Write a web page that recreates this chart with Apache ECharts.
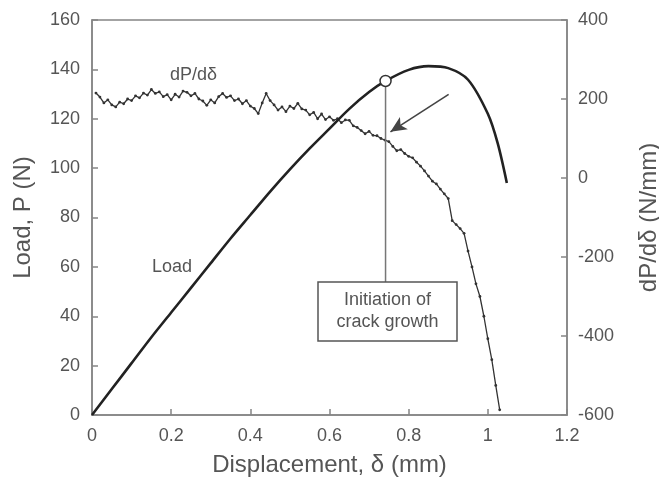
<!DOCTYPE html>
<html>
<head>
<meta charset="utf-8">
<script src="https://cdn.jsdelivr.net/npm/echarts@6/dist/echarts.min.js"></script>
<style>html,body{margin:0;padding:0;background:#fff;overflow:hidden}#c{width:659px;height:486px}</style>
</head>
<body>
<div id="c"></div>
<script>
// Load curve (displacement mm, load N)
const loadX = [0, 0.05, 0.1, 0.15, 0.2, 0.25, 0.3, 0.35, 0.4, 0.45, 0.5, 0.55, 0.6, 0.65, 0.7, 0.7416, 0.8, 0.85, 0.9, 0.95, 1.0, 1.025, 1.048];
const loadY = [0, 10.5, 21, 31.5, 41.5, 51.5, 61.5, 71.5, 81, 90.5, 99.5, 108, 116, 124, 130.8, 135.3, 139.8, 141.3, 140.5, 135.8, 122, 110, 94];
// dP/dδ (N/mm)
const derivX = [0.01,0.02,0.03,0.04,0.05,0.06,0.07,0.08,0.09,0.10,0.11,0.12,0.13,0.14,0.15,0.16,0.17,0.18,0.19,0.20,
  0.21,0.22,0.23,0.24,0.25,0.26,0.27,0.28,0.29,0.30,0.31,0.32,0.33,0.34,0.35,0.36,0.37,0.38,0.39,0.40,
  0.41,0.42,0.43,0.44,0.45,0.46,0.47,0.48,0.49,0.50,0.51,0.52,0.53,0.54,0.55,0.56,0.57,0.58,0.59,0.60,
  0.61,0.62,0.63,0.64,0.65,0.66,0.67,0.68,0.69,0.70,0.71,0.72,0.73,0.74,0.75,0.76,0.77,0.78,0.79,0.80,
  0.81,0.82,0.83,0.84,0.85,0.86,0.87,0.88,0.89,0.90,0.91,0.92,0.93,0.94,0.95,0.96,0.97,0.98,0.99,1.00,
  1.01,1.02,1.03];
const derivY = [215,205,190,198,185,180,192,188,200,196,208,203,215,210,224,214,218,206,211,198,
  212,205,220,217,208,214,200,195,184,198,190,206,214,204,208,196,200,188,196,182,
  176,163,190,214,196,185,172,180,168,182,176,189,175,172,160,166,150,162,148,155,
  146,150,140,147,146,132,128,120,112,118,108,107,100,96,92,80,69,72,62,55,
  51,40,30,18,5,-8,-15,-28,-40,-52,-108,-118,-128,-140,-185,-225,-268,-300,-350,-407,
  -460,-525,-587];
// Annotation (initiation of crack growth)
const initPoint = [0.7416, 135.3];
const boxTopLoad = 53.9;
const arrowTail = [0.901, 129.9];
const arrowHead = [0.754, 114.7];

const FONT = '"Liberation Sans", Arial, sans-serif';
const TXT = '#555';
const AX = '#858585';

const chart = echarts.init(document.getElementById('c'));
chart.setOption({
  animation: false,
  backgroundColor: '#fff',
  grid: {left: 92, right: 92, top: 20, bottom: 71, containLabel: false, outerBoundsMode: 'none',
         show: true, borderColor: AX, borderWidth: 1.5, backgroundColor: 'transparent'},
  xAxis: {
    type: 'value', min: 0, max: 1.2, interval: 0.2,
    name: 'Displacement, δ (mm)', nameLocation: 'middle', nameGap: 38,
    nameTextStyle: {fontSize: 24, color: TXT, fontFamily: FONT},
    axisLine: {lineStyle: {color: AX, width: 1.5}},
    axisTick: {inside: true, length: 6, lineStyle: {color: AX, width: 1.5}},
    axisLabel: {fontSize: 18, color: TXT, fontFamily: FONT, margin: 12},
    splitLine: {show: false}
  },
  yAxis: [{
    type: 'value', min: 0, max: 160, interval: 20,
    name: 'Load, P (N)', nameLocation: 'middle', nameGap: 57, nameRotate: 90,
    nameTextStyle: {fontSize: 24, color: TXT, fontFamily: FONT},
    axisLine: {lineStyle: {color: AX, width: 1.5}},
    axisTick: {inside: true, length: 6, lineStyle: {color: AX, width: 1.5}},
    axisLabel: {fontSize: 18, color: TXT, fontFamily: FONT, margin: 12},
    splitLine: {show: false}
  }, {
    type: 'value', min: -600, max: 400, interval: 200, position: 'right',
    name: 'dP/dδ (N/mm)', nameLocation: 'middle', nameGap: 70, nameRotate: 90,
    nameTextStyle: {fontSize: 24, color: TXT, fontFamily: FONT},
    axisLine: {show: true, lineStyle: {color: AX, width: 1.5}},
    axisTick: {show: true, inside: true, length: 6, lineStyle: {color: AX, width: 1.5}},
    axisLabel: {fontSize: 18, color: TXT, fontFamily: FONT, margin: 11},
    splitLine: {show: false}
  }],
  series: [{
    type: 'line', yAxisIndex: 1,
    data: derivX.map((x, i) => [x, derivY[i]]),
    showSymbol: true, symbol: 'circle', symbolSize: 2.8,
    itemStyle: {color: '#333'},
    lineStyle: {color: '#333', width: 1.3},
    silent: true, z: 3
  }, {
    type: 'line', yAxisIndex: 0,
    data: loadX.map((x, i) => [x, loadY[i]]),
    smooth: 0.3, showSymbol: false,
    lineStyle: {color: '#222', width: 2.6},
    silent: true, z: 4
  }, {
    type: 'line', yAxisIndex: 0,
    data: [initPoint, [initPoint[0], boxTopLoad]],
    showSymbol: false,
    lineStyle: {color: '#777', width: 1.5},
    silent: true, z: 5,
    markLine: {
      silent: true, symbol: ['none', 'arrow'], symbolSize: [11, 16],
      lineStyle: {color: '#444', width: 1.6, type: 'solid'},
      label: {show: false},
      data: [[{coord: arrowTail}, {coord: arrowHead}]]
    }
  }, {
    type: 'scatter', yAxisIndex: 0,
    data: [initPoint],
    symbol: 'circle', symbolSize: 11,
    itemStyle: {color: '#fff', borderColor: '#333', borderWidth: 1.5, opacity: 1},
    silent: true, z: 6
  }],
  graphic: [
    {type: 'text', left: 170, top: 66, style: {text: 'dP/dδ', font: '18px ' + FONT, fill: TXT}},
    {type: 'text', left: 152, top: 258, style: {text: 'Load', font: '18px ' + FONT, fill: TXT}},
    {type: 'rect', shape: {x: 318, y: 282, width: 139, height: 59}, style: {fill: '#fff', stroke: '#555', lineWidth: 1.5}, z: 10},
    {type: 'text', x: 387.5, y: 311.5, z: 11, style: {text: 'Initiation of\ncrack growth', font: '18px ' + FONT, fill: TXT, align: 'center', verticalAlign: 'middle', lineHeight: 22}}
  ]
});
</script>
</body>
</html>
